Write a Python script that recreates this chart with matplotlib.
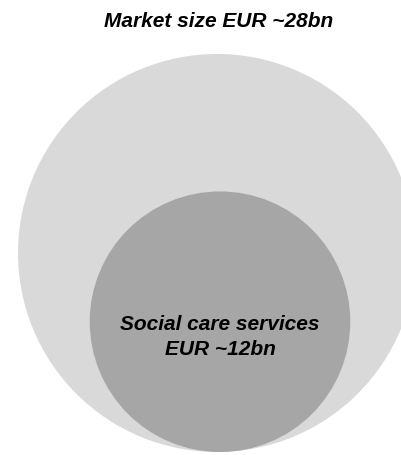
import numpy as np
import matplotlib.pyplot as plt
from matplotlib.patches import Circle

# market sizes, EUR bn
labels = ["Market size EUR ~28bn", "Social care services\nEUR ~12bn"]
sizes = [28, 12]
colors = ["#d9d9d9", "#a6a6a6"]

W, H = 402, 455
BASELINE = 452          # circles sit on a common bottom line
SCALE = 199 / np.sqrt(28)   # px radius per sqrt(EUR bn)
CENTERS_X = [217, 220]

plt.rcParams['font.family'] = ['Liberation Sans', 'DejaVu Sans']

fig = plt.figure(figsize=(W / 100, H / 100), dpi=100)
ax = fig.add_axes([0, 0, 1, 1])
ax.set_xlim(0, W)
ax.set_ylim(H, 0)
ax.set_aspect('equal')
ax.axis('off')

for size, color, cx in zip(sizes, colors, CENTERS_X):
    r = SCALE * np.sqrt(size)
    ax.add_patch(Circle((cx, BASELINE - r), r, facecolor=color, edgecolor='none'))

ax.text(219, 27, labels[0], ha='center', va='baseline', fontsize=15,
        fontweight='bold', fontstyle='italic')
ax.text(220, 355, labels[1], ha='center', va='baseline', fontsize=15,
        fontweight='bold', fontstyle='italic', linespacing=1.4,
        multialignment='center')

fig.savefig("out.png", dpi=100)
